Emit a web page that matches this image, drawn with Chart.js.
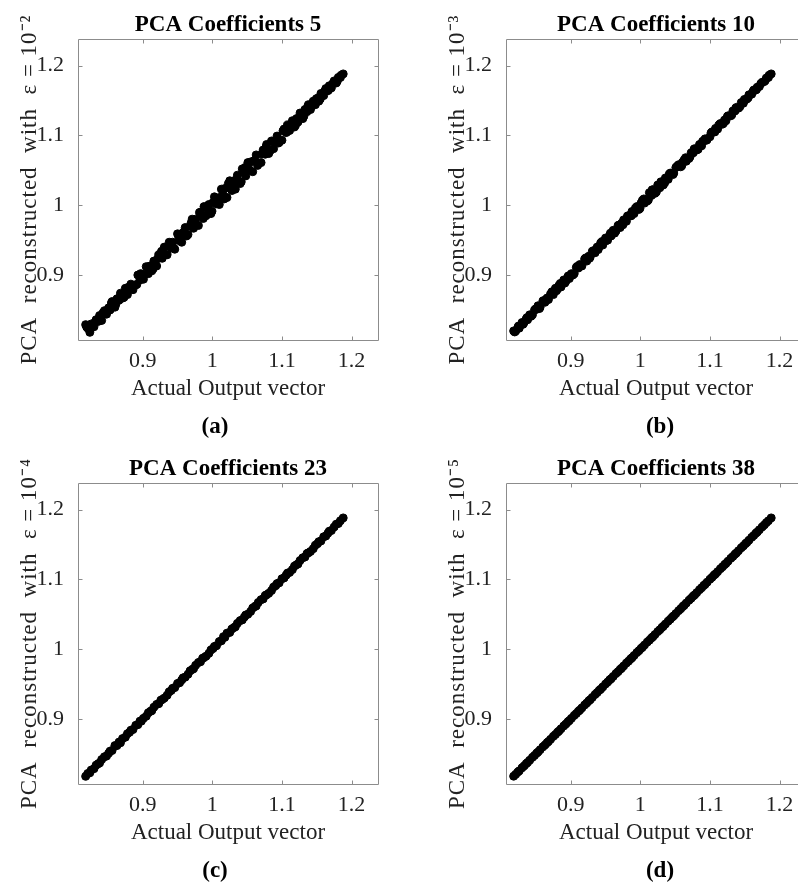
<!DOCTYPE html>
<html>
<head>
<meta charset="utf-8">
<script src="https://cdn.jsdelivr.net/npm/chart.js@4.4.1/dist/chart.umd.min.js"></script>
<style>
html, body { margin: 0; padding: 0; background: #fff; }
#fig { position: relative; width: 798px; height: 891px; overflow: hidden; }
#fig canvas { position: absolute; }
</style>
</head>
<body>
<div id="fig">
  <canvas id="pa" width="430" height="444" style="left:0px;top:0px"></canvas>
  <canvas id="pb" width="464" height="444" style="left:428px;top:0px"></canvas>
  <canvas id="pc" width="430" height="444" style="left:0px;top:444px"></canvas>
  <canvas id="pd" width="464" height="444" style="left:428px;top:444px"></canvas>
</div>
<script>
// actual output (x) shared by all four panels
const actualOutput = [0.818, 0.821, 0.824, 0.826,
  0.830, 0.833, 0.836, 0.838, 0.841, 0.845, 0.848, 0.851, 0.853, 0.856,
  0.860, 0.863, 0.866, 0.868, 0.871, 0.875, 0.878, 0.881, 0.883, 0.886,
  0.890, 0.893, 0.896, 0.898, 0.901, 0.905, 0.908, 0.911, 0.913, 0.916,
  0.920, 0.923, 0.926, 0.928, 0.931, 0.935, 0.938, 0.941, 0.943, 0.946,
  0.950, 0.953, 0.956, 0.958, 0.961, 0.965, 0.968, 0.971, 0.973, 0.976,
  0.980, 0.983, 0.986, 0.988, 0.991, 0.995, 0.998, 1.001, 1.003, 1.006,
  1.010, 1.013, 1.016, 1.018, 1.021, 1.025, 1.028, 1.031, 1.033, 1.036,
  1.040, 1.043, 1.046, 1.048, 1.051, 1.055, 1.058, 1.061, 1.063, 1.066,
  1.070, 1.073, 1.076, 1.078, 1.081, 1.085, 1.088, 1.091, 1.093, 1.096,
  1.100, 1.103, 1.106, 1.108, 1.111, 1.115, 1.118, 1.121, 1.123, 1.126,
  1.130, 1.133, 1.136, 1.138, 1.141, 1.145, 1.148, 1.151, 1.153, 1.156,
  1.160, 1.163, 1.166, 1.168, 1.171, 1.175, 1.178, 1.181, 1.184, 1.188];

// reconstructed values, eps = 1e-2 (5 coefficients)
const reconEps2 = [0.829, 0.824, 0.818, 0.830,
  0.826, 0.836, 0.834, 0.842, 0.835, 0.849, 0.844, 0.853, 0.850, 0.862,
  0.854, 0.866, 0.864, 0.874, 0.867, 0.881, 0.872, 0.881, 0.887, 0.879,
  0.886, 0.900, 0.893, 0.901, 0.894, 0.912, 0.902, 0.913, 0.906, 0.920,
  0.913, 0.929, 0.926, 0.924, 0.940, 0.929, 0.947, 0.939, 0.947, 0.937,
  0.959, 0.949, 0.947, 0.961, 0.968, 0.958, 0.970, 0.980, 0.967, 0.980,
  0.971, 0.990, 0.983, 0.998, 0.985, 1.001, 0.988, 1.004, 1.012, 1.002,
  1.001, 1.023, 1.014, 1.024, 1.011, 1.035, 1.021, 1.035, 1.023, 1.043,
  1.031, 1.052, 1.046, 1.042, 1.061, 1.062, 1.048, 1.064, 1.072, 1.059,
  1.061, 1.079, 1.073, 1.087, 1.074, 1.092, 1.081, 1.093, 1.099, 1.090,
  1.093, 1.109, 1.104, 1.115, 1.107, 1.121, 1.112, 1.124, 1.119, 1.132,
  1.124, 1.137, 1.134, 1.144, 1.137, 1.149, 1.144, 1.153, 1.149, 1.160,
  1.157, 1.167, 1.164, 1.171, 1.168, 1.178, 1.175, 1.183, 1.183, 1.188];

// eps = 1e-3 (10 coefficients)
const reconEps3 = [0.820, 0.820, 0.825, 0.824,
  0.832, 0.832, 0.837, 0.836, 0.843, 0.843, 0.850, 0.851, 0.856, 0.854,
  0.863, 0.861, 0.867, 0.865, 0.873, 0.872, 0.881, 0.880, 0.885, 0.883,
  0.893, 0.891, 0.898, 0.895, 0.902, 0.902, 0.911, 0.910, 0.915, 0.913,
  0.923, 0.920, 0.927, 0.926, 0.934, 0.932, 0.940, 0.941, 0.946, 0.943,
  0.953, 0.950, 0.957, 0.956, 0.964, 0.963, 0.971, 0.968, 0.974, 0.979,
  0.977, 0.985, 0.985, 0.991, 0.988, 0.998, 0.994, 1.003, 1.007, 1.003,
  1.006, 1.018, 1.014, 1.022, 1.017, 1.029, 1.025, 1.033, 1.029, 1.039,
  1.037, 1.046, 1.046, 1.046, 1.054, 1.058, 1.055, 1.062, 1.065, 1.063,
  1.067, 1.075, 1.075, 1.081, 1.079, 1.087, 1.085, 1.092, 1.095, 1.094,
  1.098, 1.105, 1.105, 1.110, 1.109, 1.117, 1.116, 1.122, 1.121, 1.128,
  1.128, 1.135, 1.135, 1.140, 1.139, 1.147, 1.146, 1.151, 1.152, 1.158,
  1.159, 1.165, 1.165, 1.169, 1.170, 1.176, 1.177, 1.182, 1.183, 1.188];

// eps = 1e-4 (23 coefficients)
const reconEps4 = [0.818, 0.822, 0.823, 0.827,
  0.829, 0.834, 0.836, 0.837, 0.842, 0.846, 0.847, 0.851, 0.854, 0.855,
  0.862, 0.862, 0.867, 0.866, 0.872, 0.874, 0.879, 0.881, 0.884, 0.885,
  0.891, 0.892, 0.897, 0.897, 0.901, 0.904, 0.909, 0.911, 0.912, 0.917,
  0.921, 0.922, 0.927, 0.928, 0.930, 0.934, 0.939, 0.941, 0.944, 0.945,
  0.951, 0.952, 0.956, 0.959, 0.960, 0.964, 0.969, 0.971, 0.972, 0.977,
  0.981, 0.982, 0.987, 0.988, 0.990, 0.994, 0.999, 1.001, 1.004, 1.005,
  1.011, 1.012, 1.018, 1.017, 1.023, 1.024, 1.029, 1.031, 1.032, 1.037,
  1.041, 1.042, 1.046, 1.049, 1.050, 1.054, 1.059, 1.061, 1.062, 1.067,
  1.071, 1.072, 1.077, 1.078, 1.080, 1.084, 1.089, 1.091, 1.094, 1.095,
  1.101, 1.102, 1.106, 1.109, 1.110, 1.114, 1.119, 1.121, 1.122, 1.127,
  1.131, 1.132, 1.137, 1.138, 1.140, 1.144, 1.149, 1.151, 1.154, 1.155,
  1.161, 1.162, 1.166, 1.169, 1.170, 1.175, 1.179, 1.180, 1.184, 1.188];

// eps = 1e-5 (38 coefficients)
const reconEps5 = [0.8182, 0.8209, 0.8241, 0.8258,
  0.8302, 0.8329, 0.8361, 0.8378, 0.8410, 0.8452, 0.8479, 0.8511, 0.8528, 0.8560,
  0.8602, 0.8629, 0.8661, 0.8678, 0.8710, 0.8752, 0.8779, 0.8811, 0.8828, 0.8860,
  0.8902, 0.8929, 0.8961, 0.8978, 0.9010, 0.9052, 0.9079, 0.9111, 0.9128, 0.9160,
  0.9202, 0.9229, 0.9261, 0.9278, 0.9310, 0.9352, 0.9379, 0.9411, 0.9428, 0.9460,
  0.9502, 0.9529, 0.9561, 0.9578, 0.9610, 0.9652, 0.9679, 0.9711, 0.9728, 0.9760,
  0.9802, 0.9829, 0.9861, 0.9878, 0.9910, 0.9952, 0.9979, 1.0011, 1.0028, 1.0060,
  1.0102, 1.0129, 1.0161, 1.0178, 1.0210, 1.0252, 1.0279, 1.0311, 1.0328, 1.0360,
  1.0402, 1.0429, 1.0461, 1.0478, 1.0510, 1.0552, 1.0579, 1.0611, 1.0628, 1.0660,
  1.0702, 1.0729, 1.0761, 1.0778, 1.0810, 1.0852, 1.0879, 1.0911, 1.0928, 1.0960,
  1.1002, 1.1029, 1.1061, 1.1078, 1.1110, 1.1152, 1.1179, 1.1211, 1.1228, 1.1260,
  1.1302, 1.1329, 1.1361, 1.1378, 1.1410, 1.1452, 1.1479, 1.1511, 1.1528, 1.1560,
  1.1602, 1.1629, 1.1661, 1.1678, 1.1710, 1.1751, 1.1779, 1.1812, 1.1839, 1.1880];

// more samples where the cloud is wide (panels a and b)
const actualOutputExtra = [0.8195, 0.8250, 0.8315, 0.8370, 0.8430, 0.8495, 0.8550, 0.8615,
  0.8670, 0.8730, 0.8795, 0.8850, 0.8915, 0.8970, 0.9030, 0.9095, 0.9150, 0.9215,
  0.9270, 0.9330, 0.9395, 0.9450, 0.9515, 0.9570, 0.9630, 0.9695, 0.9750, 0.9815,
  0.9870, 0.9930, 0.9995, 1.0050, 1.0115, 1.0170, 1.0230, 1.0295, 1.0350, 1.0415,
  1.0470, 1.0530, 1.0595, 1.0650, 1.0715, 1.0770, 1.0830, 1.0895, 1.0950, 1.1015,
  1.1070, 1.1130, 1.1195, 1.1250, 1.1315, 1.1370, 1.1430, 1.1495, 1.1550, 1.1615,
  1.1670, 1.1730, 1.1795, 1.1850];

const reconEps2Extra = [0.8255, 0.8230, 0.8325, 0.8340, 0.8460, 0.8485, 0.8600, 0.8585,
  0.8680, 0.8680, 0.8825, 0.8850, 0.8865, 0.9020, 0.9010, 0.9125, 0.9090, 0.9235,
  0.9340, 0.9290, 0.9405, 0.9380, 0.9555, 0.9570, 0.9560, 0.9745, 0.9730, 0.9895,
  0.9810, 0.9950, 0.9915, 1.0100, 1.0115, 1.0090, 1.0310, 1.0265, 1.0370, 1.0335,
  1.0540, 1.0510, 1.0635, 1.0570, 1.0735, 1.0830, 1.0780, 1.0905, 1.0890, 1.1065,
  1.1050, 1.1160, 1.1145, 1.1260, 1.1275, 1.1410, 1.1420, 1.1525, 1.1520, 1.1635,
  1.1650, 1.1740, 1.1775, 1.1860];

const reconEps3Extra = [0.8185, 0.8270, 0.8295, 0.8390, 0.8410, 0.8515, 0.8520, 0.8635,
  0.8650, 0.8760, 0.8775, 0.8880, 0.8885, 0.8990, 0.9000, 0.9125, 0.9130, 0.9245,
  0.9240, 0.9350, 0.9365, 0.9480, 0.9495, 0.9600, 0.9600, 0.9715, 0.9720, 0.9845,
  0.9850, 0.9960, 0.9955, 1.0090, 1.0075, 1.0220, 1.0190, 1.0335, 1.0320, 1.0445,
  1.0440, 1.0560, 1.0565, 1.0680, 1.0695, 1.0800, 1.0800, 1.0915, 1.0930, 1.1035,
  1.1050, 1.1150, 1.1175, 1.1270, 1.1295, 1.1390, 1.1410, 1.1515, 1.1540, 1.1625,
  1.1660, 1.1740, 1.1785, 1.1860];

const pcaCoefficients = [5, 10, 23, 38];
const epsExponents = ['⁻²', '⁻³', '⁻⁴', '⁻⁵'];
const panelLetters = ['(a)', '(b)', '(c)', '(d)'];
const tickValues = [0.9, 1, 1.1, 1.2];
const tickText = ['0.9', '1', '1.1', '1.2'];
const axisMin = 0.807, axisMax = 1.238;

Chart.defaults.font.family = "'Liberation Serif', 'Times New Roman', serif";
Chart.defaults.color = '#222';

// matlab style box with inward ticks
const axesBox = {
  id: 'axesBox',
  afterDraw(chart) {
    const ctx = chart.ctx, a = chart.chartArea;
    const xs = chart.scales.x, ys = chart.scales.y;
    const L = Math.round(a.left) + 0.5, R = Math.round(a.right) + 0.5;
    const T = Math.round(a.top) + 0.5, B = Math.round(a.bottom) + 0.5;
    ctx.save();
    ctx.strokeStyle = '#8c8c8c';
    ctx.lineWidth = 1;
    ctx.beginPath();
    ctx.rect(L, T, R - L, B - T);
    tickValues.forEach(v => {
      const px = Math.round(xs.getPixelForValue(v)) + 0.5;
      ctx.moveTo(px, B); ctx.lineTo(px, B - 4);
      ctx.moveTo(px, T); ctx.lineTo(px, T + 4);
      const py = Math.round(ys.getPixelForValue(v)) + 0.5;
      ctx.moveTo(L, py); ctx.lineTo(L + 4, py);
      ctx.moveTo(R, py); ctx.lineTo(R - 4, py);
    });
    ctx.stroke();
    ctx.restore();
  }
};

// the latex y label is wider than Liberation Serif, space its letters a bit
const yTitleSpacing = {
  id: 'yTitleSpacing',
  afterLayout(chart) {
    const s = chart.scales.y;
    if (s.drawTitle === Chart.Scale.prototype.drawTitle) {
      const base = s.drawTitle;
      s.drawTitle = function () {
        const c = this.ctx;
        c.save();
        c.letterSpacing = '1px';
        base.call(this);
        c.restore();
      };
    }
  }
};

function cloud(xs, ys) {
  return {
    data: xs.map((x, i) => ({x: x, y: ys[i]})),
    pointRadius: 4,
    pointBorderWidth: 1,
    pointBackgroundColor: '#000',
    pointBorderColor: '#000'
  };
}

function makePanel(id, recon, extra, k, rightPad) {
  const sets = [cloud(actualOutput, recon)];
  if (extra) sets.push(cloud(actualOutputExtra, extra));
  return new Chart(document.getElementById(id), {
    type: 'scatter',
    data: {datasets: sets},
    options: {
      responsive: false,
      animation: false,
      events: [],
      layout: {padding: 0, autoPadding: false},
      plugins: {
        legend: {display: false},
        tooltip: {enabled: false},
        title: {
          display: true, fullSize: false,
          text: 'PCA Coefficients ' + pcaCoefficients[k],
          color: '#000',
          font: {size: 23, weight: 'bold'},
          padding: {top: 11.2, bottom: 0.2}
        },
        subtitle: {
          display: true, position: 'bottom',
          text: panelLetters[k],
          color: '#000',
          font: {size: 23, weight: 'bold'},
          padding: {top: 0, bottom: 3}
        }
      },
      scales: {
        x: {
          type: 'linear', min: axisMin, max: axisMax,
          afterBuildTicks: s => { s.ticks = tickValues.map(v => ({value: v})); },
          afterFit: s => { s.height = 73.4; },
          grid: {display: false, drawTicks: false},
          border: {display: false},
          ticks: {autoSkip: false, maxRotation: 0, padding: 7.8, font: {size: 22},
                  callback: (v, i) => tickText[i]},
          title: {display: true, text: 'Actual Output vector', font: {size: 23},
                  padding: {top: 0, bottom: 11.1}}
        },
        y: {
          type: 'linear', min: axisMin, max: axisMax,
          afterBuildTicks: s => { s.ticks = tickValues.map(v => ({value: v})); },
          afterFit: s => { s.width = 78; },
          grid: {display: false, drawTicks: false},
          border: {display: false},
          ticks: {autoSkip: false, padding: 14, font: {size: 22},
                  callback: (v, i) => tickText[i]},
          title: {display: true, text: 'PCA  reconstructed  with  ε = 10' + epsExponents[k],
                  font: {size: 23}, padding: {top: 15.7, bottom: 0}}
        },
        pad: {
          type: 'linear', position: 'right', display: true,
          grid: {display: false}, border: {display: false}, ticks: {display: false},
          afterFit: s => { s.width = rightPad; }
        }
      }
    },
    plugins: [yTitleSpacing, axesBox]
  });
}

makePanel('pa', reconEps2, reconEps2Extra, 0, 52);
makePanel('pb', reconEps3, reconEps3Extra, 1, 86);
makePanel('pc', reconEps4, null, 2, 52);
makePanel('pd', reconEps5, null, 3, 86);
</script>
</body>
</html>
